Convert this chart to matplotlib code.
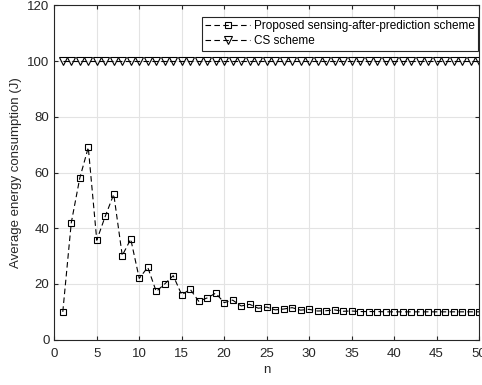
import numpy as np
import matplotlib
matplotlib.use('Agg')
import matplotlib.pyplot as plt

plt.rcParams['font.family'] = ['Liberation Sans', 'DejaVu Sans']

n = np.arange(1, 51)
proposed = [10, 42, 58, 69, 35.7, 44.3, 52.2, 30.2, 36.1, 22,
            26, 17.3, 20, 23, 16.1, 18.1, 13.8, 15, 16.7, 13.3,
            14.2, 12.1, 12.7, 11.3, 11.7, 10.7, 11.0, 11.5, 10.6, 10.9,
            10.3, 10.4, 10.7, 10.2, 10.3, 10.1, 10.1, 10.1, 10.0, 10.0,
            10.0, 10.0, 10.0, 10.0, 10.0, 10.0, 10.0, 10.0, 10.0, 10.0]
cs = [100] * 50

fig = plt.figure(figsize=(4.82, 3.85), dpi=100)
ax = fig.add_axes([54.3 / 482, (385 - 339.7) / 385, (479 - 54.3) / 482, (339.7 - 5.3) / 385])

ax.plot(n, proposed, color='black', linestyle='--', dashes=(5, 3), linewidth=0.8,
        marker='s', markersize=5, markerfacecolor='none', markeredgewidth=0.8,
        label='Proposed sensing-after-prediction scheme')
ax.plot(n, cs, color='black', linestyle='--', dashes=(5, 3), linewidth=0.8,
        marker='v', markersize=5.5, markerfacecolor='none', markeredgewidth=0.8,
        label='CS scheme')

ax.set_xlim(0, 50)
ax.set_ylim(0, 120)
ax.set_xticks(np.arange(0, 51, 5))
ax.set_yticks(np.arange(0, 121, 20))
ax.grid(True, color='#e3e3e3', linewidth=0.8)
ax.set_axisbelow(True)
for s in ax.spines.values():
    s.set_color('#262626')
    s.set_linewidth(0.8)
ax.tick_params(direction='in', length=3, colors='#262626', labelsize=9.5, top=True, right=True)
ax.tick_params(axis='x', pad=6)
ax.set_xlabel('n', fontsize=9.5, color='#262626', labelpad=3)
ax.set_ylabel('Average energy consumption (J)', fontsize=9.5, color='#262626')

leg = ax.legend(loc='upper right', fontsize=8.5, frameon=True, fancybox=False,
                edgecolor='#262626', framealpha=1, handlelength=3.8,
                borderpad=0.3, labelspacing=0.25, handletextpad=0.3,
                borderaxespad=0, bbox_to_anchor=(0.9975, 0.966))
leg.get_frame().set_linewidth(0.8)

fig.savefig('out.png', dpi=100)
